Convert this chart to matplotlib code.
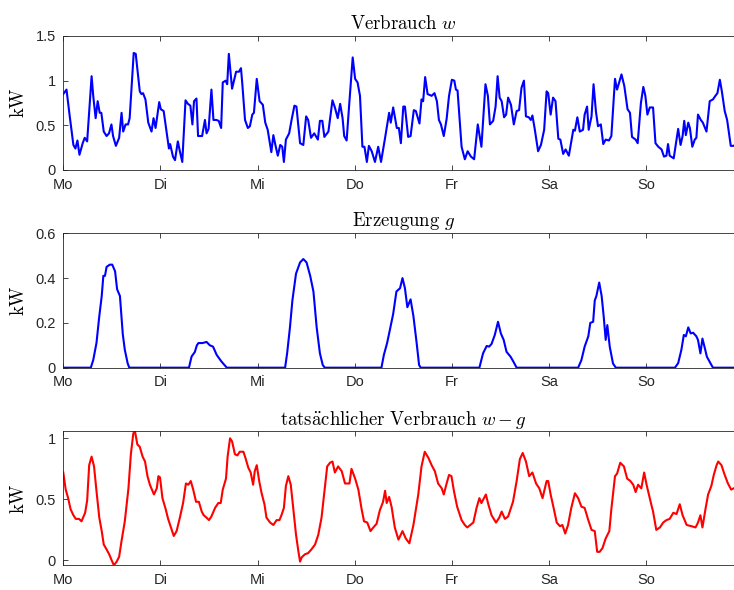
import numpy as np
import matplotlib
matplotlib.use("Agg")
import matplotlib.pyplot as plt

# Stunden ab Montag 0 Uhr, Werte in kW
days = ["Mo", "Di", "Mi", "Do", "Fr", "Sa", "So"]

w_hours = [0, 0.8, 1.6, 2.5, 3.0, 3.5, 4.0, 4.8, 5.3, 5.9, 7.0, 7.4, 8.0, 8.5, 9.0, 9.4, 10.0, 10.7, 11.3,
           11.9, 12.3, 13.0, 13.8, 14.4, 14.8, 15.4, 16.0, 16.4, 17.4, 17.9, 18.9, 19.3, 19.7, 20.3, 21.0, 21.8,
           22.3, 22.8, 23.7, 24.1, 24.8, 25.5, 26.1, 26.4, 27.1, 27.6, 28.3, 28.8, 29.4, 30.2, 30.8, 31.4, 31.9,
           32.3, 32.9, 33.3, 34.3, 35.0, 35.4, 35.9, 36.6, 37.1, 37.8, 38.4, 39.0, 39.4, 40.1, 40.5, 40.9, 41.7,
           42.7, 43.4, 43.9, 44.2, 44.9, 45.6, 46.1, 46.7, 47.1, 47.8, 48.5, 49.3, 49.9, 50.5, 51.4, 51.9, 52.4,
           53.0, 53.6, 54.1, 54.5, 55.0, 55.8, 56.4, 57.1, 57.6, 58.5, 59.3, 60.0, 60.5, 61.2, 62.0, 62.9, 63.4,
           64.0, 64.5, 65.5, 66.5, 67.1, 67.8, 68.4, 69.0, 69.4, 70.0, 70.6, 71.5, 72.1, 72.7, 73.3, 73.9, 74.4,
           75.0, 75.5, 76.2, 77.0, 77.8, 78.5, 79.5, 80.5, 80.9, 81.5, 82.4, 82.9, 83.4, 84.0, 84.4, 85.2, 85.8,
           86.6, 87.1, 88.0, 88.5, 88.9, 89.4, 90.0, 91.0, 91.7, 92.3, 92.8, 93.3, 94.0, 94.7, 95.3, 96.0, 96.6,
           97.0, 97.4, 98.4, 99.2, 99.9, 100.7, 101.5, 102.4, 103.3, 104.3, 104.9, 105.4, 106.2, 106.8, 107.3,
           107.8, 108.3, 108.9, 109.4, 109.9, 110.6, 111.3, 112.0, 112.6, 113.2, 113.8, 114.3, 115.0, 115.5,
           115.9, 116.5, 117.3, 118.0, 118.8, 119.4, 119.8, 120.4, 121.0, 121.6, 122.3, 122.8, 123.5, 124.1,
           124.9, 126.0, 126.4, 127.0, 127.6, 128.4, 128.8, 129.4, 129.8, 130.5, 131.0, 131.6, 132.1, 132.8,
           133.4, 134.0, 134.8, 135.4, 136.3, 136.8, 137.2, 137.9, 138.6, 139.4, 140.0, 140.5, 141.4, 141.9,
           142.7, 143.3, 143.8, 144.3, 144.9, 145.7, 146.3, 147.0, 147.8, 148.4, 149.0, 149.4, 149.8, 150.8,
           151.9, 152.5, 153.0, 153.4, 153.8, 154.4, 154.8, 155.4, 156.0, 156.4, 156.8, 157.5, 158.0, 158.9,
           159.7, 160.5, 161.1, 161.6, 162.2, 162.7, 163.4, 164.0, 164.4, 164.9, 165.6, 166.5, 167.5]
w_vals = [0.85, 0.90, 0.60, 0.28, 0.24, 0.33, 0.17, 0.30, 0.36, 0.32, 1.05, 0.83, 0.58, 0.77, 0.64, 0.64, 0.43,
          0.38, 0.41, 0.51, 0.38, 0.27, 0.36, 0.64, 0.43, 0.51, 0.51, 0.58, 1.31, 1.30, 0.88, 0.85, 0.86, 0.79,
          0.53, 0.43, 0.58, 0.47, 0.76, 0.68, 0.66, 0.43, 0.24, 0.29, 0.15, 0.11, 0.32, 0.21, 0.09, 0.78, 0.74,
          0.72, 0.51, 0.77, 0.80, 0.38, 0.38, 0.56, 0.41, 0.46, 0.90, 0.56, 0.56, 0.55, 0.47, 0.98, 1.00, 0.96,
          1.30, 0.91, 1.10, 1.10, 1.14, 0.98, 0.56, 0.47, 0.49, 0.62, 0.64, 1.02, 0.77, 0.73, 0.53, 0.45, 0.20,
          0.39, 0.28, 0.16, 0.28, 0.26, 0.09, 0.34, 0.41, 0.56, 0.72, 0.71, 0.30, 0.28, 0.60, 0.56, 0.36, 0.41,
          0.34, 0.55, 0.55, 0.37, 0.43, 0.78, 0.70, 0.58, 0.74, 0.58, 0.38, 0.33, 0.71, 1.26, 1.02, 0.98, 0.83,
          0.26, 0.26, 0.09, 0.27, 0.21, 0.09, 0.26, 0.09, 0.36, 0.64, 0.53, 0.70, 0.47, 0.47, 0.30, 0.71, 0.71,
          0.37, 0.38, 0.67, 0.66, 0.52, 0.79, 0.77, 1.04, 0.85, 0.83, 0.86, 0.77, 0.56, 0.51, 0.38, 0.57, 0.83,
          1.01, 1.00, 0.90, 0.89, 0.26, 0.12, 0.21, 0.15, 0.12, 0.51, 0.26, 0.96, 0.83, 0.51, 0.55, 0.71, 1.05,
          0.81, 0.77, 0.59, 0.62, 0.81, 0.73, 0.51, 0.66, 0.67, 0.92, 1.00, 0.60, 0.59, 0.56, 0.61, 0.45, 0.21,
          0.28, 0.45, 0.88, 0.86, 0.62, 0.81, 0.77, 0.35, 0.34, 0.18, 0.23, 0.16, 0.45, 0.44, 0.59, 0.43, 0.45,
          0.62, 0.71, 0.45, 0.60, 0.96, 0.65, 0.49, 0.51, 0.29, 0.34, 0.33, 0.38, 1.02, 0.90, 0.96, 1.07, 0.94,
          0.68, 0.64, 0.37, 0.34, 0.30, 0.75, 0.93, 0.83, 0.62, 0.70, 0.70, 0.30, 0.26, 0.23, 0.15, 0.16, 0.29,
          0.16, 0.13, 0.46, 0.28, 0.38, 0.55, 0.39, 0.53, 0.47, 0.26, 0.34, 0.36, 0.62, 0.56, 0.53, 0.43, 0.77,
          0.79, 0.83, 0.86, 1.01, 0.88, 0.66, 0.56, 0.43, 0.27, 0.27, 0.30, 0.35]

g_hours = [0, 6.8, 7.4, 8.2, 8.9, 9.5, 9.9, 10.3, 10.7, 11.5, 12.1, 12.8, 13.3, 14.0, 14.7, 15.2, 15.9, 16.3,
           31.05, 31.7, 32.5, 33.0, 33.4, 34.4, 35.4, 36.2, 37.0, 37.9, 39.1, 40.4,
           54.8, 55.3, 56.0, 56.6, 57.5, 58.5, 59.3, 60.1, 61.0, 61.8, 62.6, 63.4, 64.1, 64.6,
           78.6, 79.2, 80.0, 80.7, 81.5, 82.3, 83.2, 83.8, 84.4, 85.0, 85.8, 86.5, 87.3, 87.9, 88.3,
           102.8, 103.7, 104.6, 105.2, 105.8, 106.6, 107.4, 108.1, 108.8, 109.5, 110.5, 111.2, 112.0,
           127.2, 128.0, 128.8, 129.7, 130.2, 130.9, 131.3, 131.7, 132.4, 133.0, 133.5, 134.0, 134.4, 135.0,
           135.8, 136.5,
           151.1, 151.9, 152.7, 153.3, 153.8, 154.4, 155.0, 155.6, 156.4, 156.8, 157.4, 157.9, 158.4, 159.0,
           159.9, 160.5, 168.0]
g_vals = [0, 0, 0.034, 0.11, 0.23, 0.32, 0.41, 0.41, 0.45, 0.46, 0.46, 0.43, 0.35, 0.32, 0.15, 0.08, 0.02, 0,
          0, 0.05, 0.07, 0.10, 0.11, 0.11, 0.115, 0.10, 0.094, 0.057, 0.027, 0,
          0, 0.064, 0.18, 0.30, 0.42, 0.47, 0.485, 0.47, 0.41, 0.34, 0.18, 0.064, 0.012, 0,
          0, 0.057, 0.11, 0.17, 0.24, 0.34, 0.355, 0.40, 0.355, 0.27, 0.305, 0.23, 0.11, 0.012, 0,
          0, 0.064, 0.097, 0.094, 0.106, 0.146, 0.205, 0.153, 0.124, 0.071, 0.049, 0.027, 0,
          0, 0.034, 0.094, 0.14, 0.20, 0.205, 0.30, 0.32, 0.38, 0.32, 0.23, 0.124, 0.19, 0.094, 0.019, 0,
          0, 0.02, 0.08, 0.146, 0.14, 0.18, 0.153, 0.156, 0.14, 0.124, 0.064, 0.13, 0.094, 0.049, 0.019, 0, 0]

n_hours = [0, 0.6, 1.2, 1.8, 2.5, 3.1, 3.9, 4.5, 5.4, 5.9, 6.4, 7.0, 7.6, 8.2, 8.9, 9.5, 10.0, 10.7, 11.4, 11.9,
           12.5, 13.2, 13.8, 14.4, 15.2, 16.1, 16.7, 17.3, 17.7, 18.3, 18.9, 19.6, 20.2, 20.8, 21.4, 22.4, 23.1,
           23.5, 23.9, 24.5, 25.3, 25.9, 26.8, 27.3, 28.0, 28.8, 29.6, 30.3, 30.9, 31.5, 32.1, 32.8, 33.5, 34.2,
           34.7, 35.4, 36.0, 36.6, 37.5, 38.3, 38.9, 39.4, 40.2, 40.6, 41.2, 41.7, 42.4, 43.0, 43.6, 44.5, 45.0,
           45.7, 46.3, 46.9, 47.3, 47.8, 48.4, 49.0, 49.7, 50.2, 51.1, 51.9, 52.7, 53.4, 53.9, 54.5, 55.0, 55.6,
           56.2, 56.8, 57.5, 58.1, 58.5, 58.9, 59.7, 60.5, 61.3, 62.2, 63.0, 63.8, 64.6, 65.2, 65.9, 66.5, 67.1,
           67.9, 68.8, 69.6, 70.7, 71.2, 72.1, 72.9, 73.7, 74.3, 75.1, 75.9, 76.6, 77.4, 78.2, 79.0, 79.5, 79.9,
           80.5, 81.1, 81.9, 82.8, 83.8, 84.6, 85.5, 86.5, 87.7, 88.5, 89.3, 90.2, 91.0, 91.8, 92.6, 93.5, 94.0,
           94.7, 95.3, 95.9, 96.5, 97.3, 98.4, 99.2, 99.8, 101.3, 102.1, 102.8, 103.3, 104.4, 105.0, 105.8,
           106.9, 107.7, 108.3, 109.1, 109.9, 111.1, 112.0, 112.8, 113.5, 114.3, 115.1, 115.9, 116.8, 117.6,
           118.4, 119.4, 119.8, 120.4, 121.2, 121.9, 122.7, 123.3, 124.0, 124.7, 125.5, 126.4, 127.2, 128.0,
           128.8, 129.7, 130.5, 131.3, 131.9, 132.5, 133.2, 134.0, 134.9, 135.4, 136.3, 136.8, 137.6, 138.5,
           139.3, 140.1, 140.8, 141.4, 142.0, 142.8, 143.5, 144.1, 145.1, 145.7, 146.5, 147.4, 148.2, 149.0,
           149.8, 150.7, 151.5, 152.3, 153.0, 154.0, 155.2, 156.2, 156.8, 157.4, 157.9, 158.7, 159.3, 160.1,
           160.7, 161.4, 161.8, 162.6, 163.4, 164.2, 165.0, 165.6, 166.5, 167.5]
n_vals = [0.72, 0.58, 0.51, 0.42, 0.37, 0.34, 0.34, 0.32, 0.39, 0.49, 0.78, 0.85, 0.77, 0.57, 0.35, 0.24, 0.13,
          0.09, 0.046, 0.005, -0.04, -0.01, 0.03, 0.16, 0.32, 0.59, 0.87, 1.04, 1.06, 0.95, 0.93, 0.85, 0.81,
          0.69, 0.62, 0.54, 0.59, 0.69, 0.68, 0.51, 0.42, 0.34, 0.25, 0.20, 0.24, 0.35, 0.47, 0.63, 0.62, 0.65,
          0.58, 0.48, 0.48, 0.40, 0.37, 0.35, 0.33, 0.36, 0.43, 0.47, 0.47, 0.58, 0.67, 0.85, 1.00, 0.975, 0.87,
          0.86, 0.89, 0.89, 0.84, 0.76, 0.72, 0.62, 0.73, 0.78, 0.65, 0.55, 0.46, 0.35, 0.31, 0.29, 0.33, 0.33,
          0.37, 0.43, 0.61, 0.69, 0.62, 0.43, 0.21, 0.07, -0.01, 0.025, 0.05, 0.06, 0.09, 0.13, 0.21, 0.35, 0.59,
          0.77, 0.80, 0.81, 0.72, 0.77, 0.73, 0.63, 0.63, 0.75, 0.67, 0.58, 0.42, 0.32, 0.31, 0.24, 0.27, 0.30,
          0.41, 0.48, 0.57, 0.47, 0.52, 0.44, 0.27, 0.17, 0.24, 0.18, 0.14, 0.29, 0.54, 0.77, 0.89, 0.84, 0.78,
          0.73, 0.63, 0.59, 0.54, 0.63, 0.70, 0.69, 0.57, 0.44, 0.33, 0.29, 0.27, 0.31, 0.43, 0.51, 0.47, 0.54,
          0.46, 0.37, 0.31, 0.35, 0.40, 0.34, 0.36, 0.48, 0.65, 0.83, 0.88, 0.81, 0.69, 0.72, 0.63, 0.59, 0.51,
          0.65, 0.65, 0.54, 0.42, 0.31, 0.28, 0.29, 0.22, 0.29, 0.43, 0.55, 0.51, 0.44, 0.43, 0.33, 0.25, 0.24,
          0.07, 0.07, 0.10, 0.18, 0.24, 0.42, 0.69, 0.71, 0.80, 0.77, 0.67, 0.65, 0.62, 0.56, 0.62, 0.59, 0.72,
          0.62, 0.48, 0.40, 0.25, 0.27, 0.31, 0.33, 0.34, 0.39, 0.38, 0.46, 0.37, 0.29, 0.28, 0.27, 0.31, 0.37,
          0.27, 0.43, 0.54, 0.61, 0.70, 0.78, 0.81, 0.78, 0.70, 0.63, 0.58, 0.59, 0.60, 0.57]

plt.rcParams["font.family"] = ["Liberation Sans", "DejaVu Sans"]
plt.rcParams["mathtext.fontset"] = "cm"

ax_col = "#262626"


def style_axes(ax, ylim, yticks, yticklabels):
    ax.set_xlim(0, 168)
    ax.set_ylim(*ylim)
    ax.set_xticks(np.arange(0, 168, 24))
    ax.set_xticklabels(days)
    ax.set_yticks(yticks)
    ax.set_yticklabels(yticklabels)
    ax.tick_params(direction="in", top=True, right=True, length=3.5, width=0.6,
                   colors=ax_col, labelsize=10.5, pad=5.5)
    for s in ax.spines.values():
        s.set_color(ax_col)
        s.set_linewidth(0.6)
    ax.set_ylabel(r"$\mathrm{kW}$", fontsize=13.5, labelpad=5)


fig = plt.figure(figsize=(7.34, 5.9), dpi=100)

ax1 = fig.add_axes([0.0862, 0.7119, 0.9265, 0.2271])
ax1.plot(w_hours, w_vals, color=(0, 0, 1), lw=1.5)
style_axes(ax1, (0, 1.5), [0, 0.5, 1, 1.5], ["0", "0.5", "1", "1.5"])
ax1.set_title(r"$\mathrm{Verbrauch}\ w$", fontsize=13.5, pad=5)

ax2 = fig.add_axes([0.0862, 0.3768, 0.9265, 0.2278])
ax2.plot(g_hours, g_vals, color=(0, 0, 1), lw=1.5)
style_axes(ax2, (0, 0.6), [0, 0.2, 0.4, 0.6], ["0", "0.2", "0.4", "0.6"])
ax2.set_title(r"$\mathrm{Erzeugung}\ g$", fontsize=13.5, pad=5)

ax3 = fig.add_axes([0.0862, 0.0419, 0.9265, 0.2276])
ax3.plot(n_hours, n_vals, color=(1, 0, 0), lw=1.5)
style_axes(ax3, (min(n_vals), max(n_vals)), [0, 0.5, 1], ["0", "0.5", "1"])
ax3.set_title(r"$\mathrm{tats\ddot{a}chlicher\ Verbrauch}\ w-g$", fontsize=13.5, pad=4)

fig.savefig("out.png", dpi=100)
